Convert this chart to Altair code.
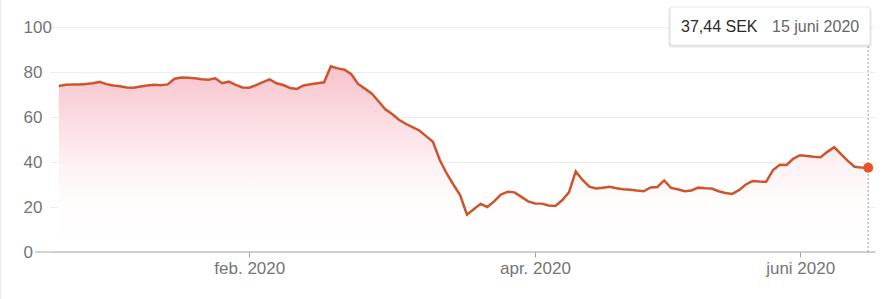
import altair as alt
import pandas as pd

# Closing prices (SEK), one per trading day, mid Dec 2019 -> 15 June 2020
values = [
    73.8, 74.3, 74.4, 74.4, 74.7, 75.0, 75.6, 74.6, 74.0, 73.7,
    73.1, 73.0, 73.6, 74.0, 74.3, 74.1, 74.5, 77.0, 77.5, 77.4,
    77.2, 76.8, 76.6, 77.2, 75.0, 75.7, 74.3, 73.1, 73.0, 74.2,
    75.5, 76.7, 75.0, 74.2, 72.9, 72.5, 74.0, 74.6, 75.0, 75.4,
    82.5, 81.6, 81.0, 79.0, 74.7, 72.6, 70.5, 67.0, 63.4, 61.3,
    58.8, 57.0, 55.5, 54.0, 51.5, 49.0, 41.0, 35.0, 30.0, 25.3,
    16.6, 19.0, 21.4, 20.0, 22.5, 25.5, 26.8, 26.5, 24.5, 22.5,
    21.6, 21.5, 20.7, 20.5, 23.0, 26.5, 35.8, 32.0, 29.0, 28.2,
    28.6, 29.0, 28.3, 27.9, 27.7, 27.3, 27.0, 28.7, 28.9, 31.8,
    28.5, 27.9, 27.0, 27.3, 28.6, 28.3, 28.2, 27.0, 26.2, 25.8,
    27.5, 30.0, 31.5, 31.3, 31.2, 36.4, 38.8, 38.7, 41.5, 43.0,
    42.7, 42.3, 42.1, 44.5, 46.6, 43.5, 40.5, 37.9, 37.5, 37.44,
]
tick_index = [28, 70, 109]
tick_labels = ["feb. 2020", "apr. 2020", "juni 2020"]
y_ticks = [0, 20, 40, 60, 80, 100]
tooltip_value = ["37,44 SEK"]
tooltip_date = ["15 juni 2020"]

FONT = "Liberation Sans"

df = pd.DataFrame({"i": list(range(len(values))), "v": values})
last = df.iloc[[-1]]

label_expr = " : ".join(
    f"datum.value == {i} ? '{l}'" for i, l in zip(tick_index, tick_labels)
) + " : ''"

xs = alt.Scale(domain=[-1.3, 120.0], nice=False, zero=False)
ys = alt.Scale(domain=[0, 100], nice=False)

x_axis = alt.Axis(
    values=tick_index, labelExpr=label_expr, grid=False, domain=False,
    tickSize=5, tickColor="#a0a0a0", labelColor="#757575", labelFontSize=17,
    labelPadding=3, title=None, labelFont=FONT,
)
y_axis = alt.Axis(
    values=y_ticks, grid=True, gridColor="#ededed", domain=False, ticks=False,
    tickSize=0, labelAlign="left", labelPadding=27, labelBaseline="middle",
    labelColor="#757575", labelFontSize=17, title=None, labelFont=FONT,
)

X = alt.X("i:Q", scale=xs, axis=x_axis)
Y = alt.Y("v:Q", scale=ys, axis=y_axis)

area = alt.Chart(df).mark_area(
    fill=alt.Gradient(
        gradient="linear",
        stops=[
            alt.GradientStop(color="#f7c3cc", offset=0),
            alt.GradientStop(color="#fbdde2", offset=0.3),
            alt.GradientStop(color="#fef3f5", offset=0.55),
            alt.GradientStop(color="#fffcfc", offset=0.72),
            alt.GradientStop(color="#ffffff", offset=1),
        ],
        x1=0, x2=0, y1=0, y2=1,
    )
).encode(x=X, y=Y)

zero = alt.Chart(pd.DataFrame({"v": [0]})).mark_rule(color="#a8a8a8", strokeWidth=1).encode(
    y=Y, x=alt.value(-15), x2=alt.value(825)
)

border = alt.Chart(pd.DataFrame({"v": [0]})).mark_rule(color="#ececec", strokeWidth=1.5).encode(
    x=alt.value(-49), y=alt.value(-27), y2=alt.value(272)
)

line = alt.Chart(df).mark_line(color="#cd552d", strokeWidth=2.5).encode(x=X, y=Y)

dash = alt.Chart(last).mark_rule(strokeDash=[2, 2], color="#9e9e9e", strokeWidth=1).encode(
    x=X, y=alt.value(19), y2=alt.value(225)
)

point = alt.Chart(last).mark_circle(size=100, color="#e65526", opacity=1).encode(x=X, y=Y)

box_df = pd.DataFrame({"t": tooltip_value})
shadow1 = alt.Chart(box_df).mark_rect(color="#000000", opacity=0.05, cornerRadius=3).encode(
    x=alt.value(618), x2=alt.value(822), y=alt.value(-19), y2=alt.value(21)
)
shadow2 = alt.Chart(box_df).mark_rect(color="#000000", opacity=0.07, cornerRadius=2).encode(
    x=alt.value(619), x2=alt.value(821), y=alt.value(-20), y2=alt.value(19.5)
)
box = alt.Chart(box_df).mark_rect(fill="#ffffff", stroke="#e6e6e6", strokeWidth=1, cornerRadius=2).encode(
    x=alt.value(620), x2=alt.value(820), y=alt.value(-20), y2=alt.value(18)
)
txt1 = alt.Chart(box_df).mark_text(
    align="left", baseline="middle", fontSize=16, color="#2a2a2a", font=FONT
).encode(text="t:N", x=alt.value(631), y=alt.value(-0.5))
txt2 = alt.Chart(pd.DataFrame({"t": tooltip_date})).mark_text(
    align="left", baseline="middle", fontSize=16, color="#666666", font=FONT
).encode(text="t:N", x=alt.value(722), y=alt.value(-0.5))

chart = alt.layer(
    area, zero, border, line, dash, point, shadow1, shadow2, box, txt1, txt2
).properties(
    width=825, height=225,
    autosize=alt.AutoSizeParams(type="none"),
    padding={"left": 50, "top": 27, "right": 18, "bottom": 47},
).configure(font=FONT, view=alt.ViewConfig(stroke=None))

chart.save("out.html", embed_options={"renderer": "svg", "actions": False})
